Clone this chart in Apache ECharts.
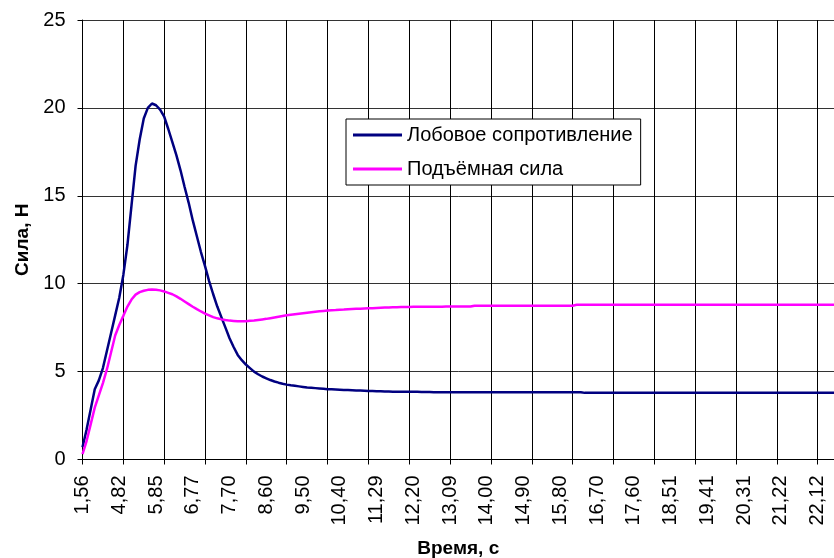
<!DOCTYPE html>
<html>
<head>
<meta charset="utf-8">
<script src="https://cdn.jsdelivr.net/npm/echarts@6/dist/echarts.min.js"></script>
<style>
html,body{margin:0;padding:0;background:#fff;}
#chart{width:834px;height:558px;}
</style>
</head>
<body>
<div id="chart"></div>
<script>
// Tick labels (time, s) shown every 9 samples
const tickLabels = ['1,56','4,82','5,85','6,77','7,70','8,60','9,50','10,40','11,29','12,20','13,09',
  '14,00','14,90','15,80','16,70','17,60','18,51','19,41','20,31','21,22','22,12'];

// Лобовое сопротивление (drag), N
const drag = [
  0.7, 1.7, 2.85, 4.0, 4.5, 5.2, 6.2, 7.2, 8.2, 9.2,
  10.5, 12.2, 14.45, 16.7, 18.2, 19.4, 20.0, 20.25, 20.15, 19.9,
  19.5, 18.8, 18.05, 17.3, 16.45, 15.5, 14.6, 13.6, 12.7, 11.8,
  11.0, 10.15, 9.4, 8.7, 8.1, 7.5, 6.9, 6.4, 5.95, 5.65,
  5.4, 5.2, 5.0, 4.85, 4.72, 4.62, 4.52, 4.44, 4.37, 4.31,
  4.26, 4.22, 4.19, 4.16, 4.13, 4.1, 4.08, 4.06, 4.04, 4.02,
  4.0, 3.99, 3.98, 3.97, 3.96, 3.95, 3.94, 3.93, 3.92, 3.91,
  3.9, 3.89, 3.88, 3.88, 3.87, 3.87, 3.86, 3.86, 3.86, 3.85,
  3.85, 3.85, 3.85, 3.84, 3.84, 3.84, 3.83, 3.83, 3.83, 3.83,
  3.83, 3.83, 3.83, 3.83, 3.83, 3.83, 3.83, 3.83, 3.83, 3.83,
  3.83, 3.83, 3.83, 3.83, 3.83, 3.83, 3.83, 3.83, 3.83, 3.83,
  3.83, 3.83, 3.83, 3.83, 3.83, 3.83, 3.83, 3.83, 3.83, 3.83,
  3.83, 3.83, 3.83, 3.79, 3.79, 3.79, 3.79, 3.79, 3.79, 3.79,
  3.79, 3.79, 3.79, 3.79, 3.79, 3.79, 3.79, 3.79, 3.79, 3.79,
  3.79, 3.79, 3.79, 3.79, 3.79, 3.79, 3.79, 3.79, 3.79, 3.79,
  3.79, 3.79, 3.79, 3.79, 3.79, 3.79, 3.79, 3.79, 3.79, 3.79,
  3.79, 3.79, 3.79, 3.79, 3.79, 3.79, 3.79, 3.79, 3.79, 3.79,
  3.79, 3.79, 3.79, 3.79, 3.79, 3.79, 3.79, 3.79, 3.79, 3.79,
  3.79, 3.79, 3.79, 3.79, 3.79
];

// Подъёмная сила (lift), N
const lift = [
  0.3, 1.05, 2.0, 2.95, 3.65, 4.35, 5.15, 6.1, 7.05, 7.65,
  8.17, 8.7, 9.1, 9.38, 9.52, 9.6, 9.65, 9.67, 9.66, 9.62,
  9.56, 9.48, 9.4, 9.28, 9.14, 8.99, 8.84, 8.69, 8.55, 8.42,
  8.3, 8.2, 8.1, 8.03, 7.97, 7.93, 7.9, 7.88, 7.86, 7.86,
  7.87, 7.89, 7.91, 7.94, 7.97, 8.0, 8.04, 8.08, 8.12, 8.16,
  8.2, 8.23, 8.26, 8.29, 8.32, 8.35, 8.38, 8.41, 8.43, 8.45,
  8.47, 8.49, 8.5, 8.52, 8.53, 8.55, 8.56, 8.57, 8.58, 8.59,
  8.6, 8.61, 8.62, 8.63, 8.64, 8.65, 8.66, 8.66, 8.67, 8.67,
  8.68, 8.69, 8.69, 8.69, 8.69, 8.69, 8.69, 8.69, 8.69, 8.7,
  8.7, 8.7, 8.7, 8.7, 8.7, 8.7, 8.75, 8.75, 8.75, 8.75,
  8.75, 8.75, 8.75, 8.75, 8.75, 8.75, 8.75, 8.75, 8.75, 8.75,
  8.75, 8.75, 8.75, 8.75, 8.75, 8.75, 8.75, 8.75, 8.75, 8.75,
  8.75, 8.8, 8.8, 8.8, 8.8, 8.8, 8.8, 8.8, 8.8, 8.8,
  8.8, 8.8, 8.8, 8.8, 8.8, 8.8, 8.8, 8.8, 8.8, 8.8,
  8.8, 8.8, 8.8, 8.8, 8.8, 8.8, 8.8, 8.8, 8.8, 8.8,
  8.8, 8.8, 8.8, 8.8, 8.8, 8.8, 8.8, 8.8, 8.8, 8.8,
  8.8, 8.8, 8.8, 8.8, 8.8, 8.8, 8.8, 8.8, 8.8, 8.8,
  8.8, 8.8, 8.8, 8.8, 8.8, 8.8, 8.8, 8.8, 8.8, 8.8,
  8.8, 8.8, 8.8, 8.8, 8.8
];

const seriesNames = ['Лобовое сопротивление', 'Подъёмная сила'];
const LABEL_EVERY = 9;   // samples between time labels
const GRID_EVERY = 10;   // samples between vertical grid lines

const categories = drag.map((_, i) => (i % LABEL_EVERY === 0 && tickLabels[i / LABEL_EVERY]) ? tickLabels[i / LABEL_EVERY] : '');

const FONT = '"Liberation Sans", Arial, sans-serif';
const chart = echarts.init(document.getElementById('chart'), null, {renderer: 'canvas'});
chart.setOption({
  animation: false,
  backgroundColor: '#fff',
  textStyle: {fontFamily: FONT},
  grid: {left: 82.5, top: 20, right: 0, bottom: 98.5, containLabel: false, outerBoundsMode: 'none'},
  legend: {
    orient: 'vertical',
    left: 346, top: 119,
    data: seriesNames,
    icon: 'rect',
    itemWidth: 49, itemHeight: 3,
    itemGap: 14,
    padding: [6, 8, 6, 7],
    borderColor: '#000', borderWidth: 1,
    backgroundColor: '#fff',
    textStyle: {fontFamily: FONT, fontSize: 20, color: '#000', lineHeight: 20}
  },
  xAxis: {
    type: 'category',
    data: categories,
    boundaryGap: false,
    name: 'Время, с',
    nameLocation: 'middle',
    nameGap: 80,
    nameTextStyle: {fontFamily: FONT, fontSize: 19, fontWeight: 'bold', color: '#000'},
    axisLine: {show: true, lineStyle: {color: '#000', width: 1}},
    axisTick: {show: true, interval: GRID_EVERY - 1, length: 5, inside: false, lineStyle: {color: '#000'}},
    axisLabel: {interval: LABEL_EVERY - 1, rotate: 90, margin: 16, fontFamily: FONT, fontSize: 20, color: '#000'},
    splitLine: {show: true, interval: GRID_EVERY - 1, lineStyle: {color: '#000', width: 1}}
  },
  yAxis: {
    type: 'value',
    min: 0, max: 25, interval: 5,
    name: 'Сила, Н',
    nameLocation: 'middle',
    nameGap: 49,
    nameRotate: 90,
    nameTextStyle: {fontFamily: FONT, fontSize: 19, fontWeight: 'bold', color: '#000'},
    axisLine: {show: true, lineStyle: {color: '#000', width: 1}},
    axisTick: {show: true, length: 5, lineStyle: {color: '#000'}},
    axisLabel: {margin: 17, fontFamily: FONT, fontSize: 20, color: '#000'},
    splitLine: {show: true, lineStyle: {color: '#333', width: 1}}
  },
  series: [
    {
      name: seriesNames[0], type: 'line', data: drag,
      showSymbol: false, symbol: 'none', smooth: false,
      lineStyle: {color: '#000080', width: 2.5},
      itemStyle: {color: '#000080'}
    },
    {
      name: seriesNames[1], type: 'line', data: lift,
      showSymbol: false, symbol: 'none', smooth: false,
      lineStyle: {color: '#FF00FF', width: 2.5},
      itemStyle: {color: '#FF00FF'}
    }
  ]
});
</script>
</body>
</html>
